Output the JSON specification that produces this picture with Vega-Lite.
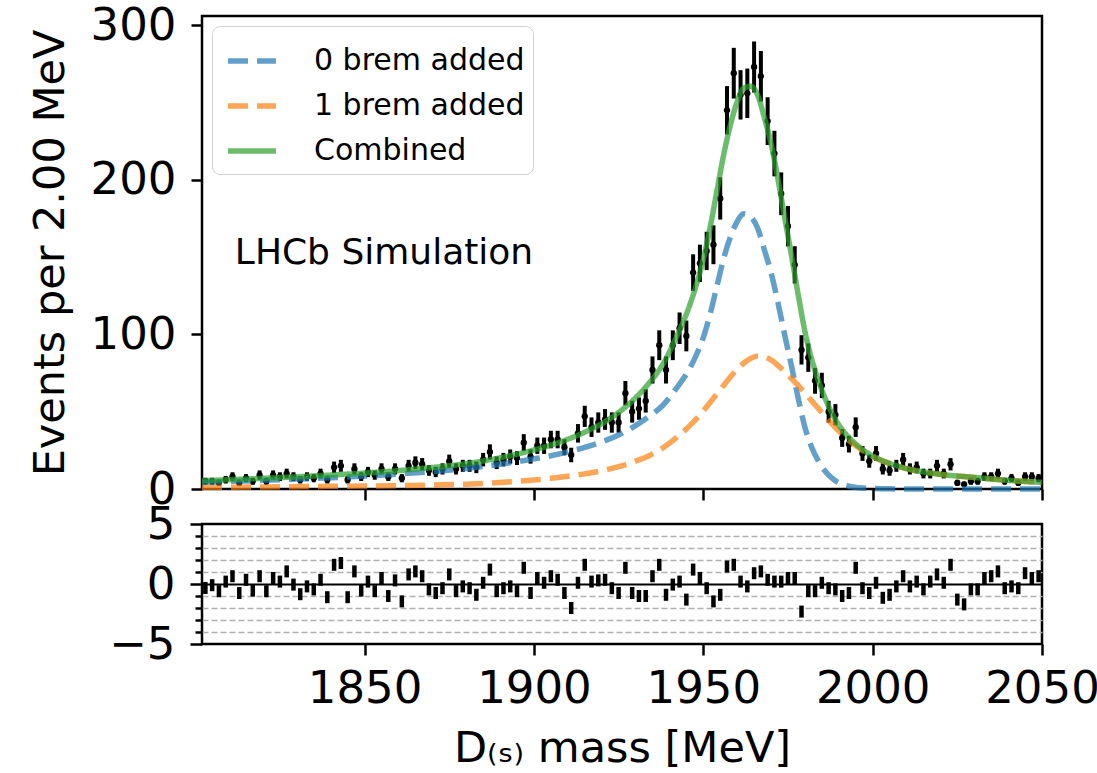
{
  "$schema": "https://vega.github.io/schema/vega-lite/v6.json",
  "background": "white",
  "padding": {"left": 27, "top": 2, "right": 5, "bottom": 5},
  "spacing": 35,
  "bounds": "flush",
  "config": {
    "font": "DejaVu Sans",
    "view": {"stroke": "black", "strokeWidth": 2.5},
    "axis": {"domain": false, "grid": false, "tickColor": "black", "tickWidth": 2.5, "tickSize": 11, "labelColor": "black", "labelFontSize": 45, "labelFont": "DejaVu Sans", "titleFont": "DejaVu Sans", "titleFontSize": 43, "titleFontWeight": "normal", "titleColor": "black", "labelFlush": false}
  },
  "datasets": {
    "pts": [
      {"m":1803,"n":5,"err":2.24},{"m":1805,"n":5,"err":2.24},{"m":1807,"n":4,"err":2},{"m":1809,"n":6,"err":2.45},{"m":1811,"n":8,"err":2.83},
      {"m":1813,"n":4,"err":2},{"m":1815,"n":7,"err":2.65},{"m":1817,"n":5,"err":2.24},{"m":1819,"n":9,"err":3},{"m":1821,"n":5,"err":2.24},
      {"m":1823,"n":9,"err":3},{"m":1825,"n":8,"err":2.83},{"m":1827,"n":10,"err":3.16},{"m":1829,"n":8,"err":2.83},{"m":1831,"n":6,"err":2.45},
      {"m":1833,"n":8,"err":2.83},{"m":1835,"n":7,"err":2.65},{"m":1837,"n":10,"err":3.16},{"m":1839,"n":6,"err":2.45},{"m":1841,"n":14,"err":3.74},
      {"m":1843,"n":15,"err":3.87},{"m":1845,"n":6,"err":2.45},{"m":1847,"n":13,"err":3.61},{"m":1849,"n":8,"err":2.83},{"m":1851,"n":11,"err":3.32},
      {"m":1853,"n":9,"err":3},{"m":1855,"n":13,"err":3.61},{"m":1857,"n":8,"err":2.83},{"m":1859,"n":13,"err":3.61},{"m":1861,"n":7,"err":2.65},
      {"m":1863,"n":15,"err":3.87},{"m":1865,"n":17,"err":4.12},{"m":1867,"n":16,"err":4},{"m":1869,"n":12,"err":3.46},{"m":1871,"n":11,"err":3.32},
      {"m":1873,"n":13,"err":3.61},{"m":1875,"n":18,"err":4.24},{"m":1877,"n":13,"err":3.61},{"m":1879,"n":15,"err":3.87},{"m":1881,"n":15,"err":3.87},
      {"m":1883,"n":14,"err":3.74},{"m":1885,"n":19,"err":4.36},{"m":1887,"n":24,"err":4.9},{"m":1889,"n":17,"err":4.12},{"m":1891,"n":19,"err":4.36},
      {"m":1893,"n":21,"err":4.58},{"m":1895,"n":20,"err":4.47},{"m":1897,"n":30,"err":5.48},{"m":1899,"n":21,"err":4.58},{"m":1901,"n":28,"err":5.29},
      {"m":1903,"n":28,"err":5.29},{"m":1905,"n":32,"err":5.66},{"m":1907,"n":32,"err":5.66},{"m":1909,"n":27,"err":5.2},{"m":1911,"n":22,"err":4.69},
      {"m":1913,"n":36,"err":6},{"m":1915,"n":47,"err":6.86},{"m":1917,"n":40,"err":6.32},{"m":1919,"n":43,"err":6.56},{"m":1921,"n":45,"err":6.71},
      {"m":1923,"n":43,"err":6.56},{"m":1925,"n":43,"err":6.56},{"m":1927,"n":62,"err":7.87},{"m":1929,"n":50,"err":7.07},{"m":1931,"n":52,"err":7.21},
      {"m":1933,"n":57,"err":7.55},{"m":1935,"n":77,"err":8.77},{"m":1937,"n":93,"err":9.64},{"m":1939,"n":77,"err":8.77},{"m":1941,"n":93,"err":9.64},
      {"m":1943,"n":104,"err":10.2},{"m":1945,"n":99,"err":9.95},{"m":1947,"n":140,"err":11.83},{"m":1949,"n":146,"err":12.08},{"m":1951,"n":154,"err":12.41},
      {"m":1953,"n":158,"err":12.57},{"m":1955,"n":188,"err":13.71},{"m":1957,"n":245,"err":15.65},{"m":1959,"n":269,"err":16.4},{"m":1961,"n":255,"err":15.97},
      {"m":1963,"n":256,"err":16},{"m":1965,"n":273,"err":16.52},{"m":1967,"n":267,"err":16.34},{"m":1969,"n":238,"err":15.43},{"m":1971,"n":217,"err":14.73},
      {"m":1973,"n":191,"err":13.82},{"m":1975,"n":170,"err":13.04},{"m":1977,"n":145,"err":12.04},{"m":1979,"n":90,"err":9.49},{"m":1981,"n":85,"err":9.22},
      {"m":1983,"n":70,"err":8.37},{"m":1985,"n":67,"err":8.19},{"m":1987,"n":50,"err":7.07},{"m":1989,"n":48,"err":6.93},{"m":1991,"n":33,"err":5.74},
      {"m":1993,"n":29,"err":5.39},{"m":1995,"n":40,"err":6.32},{"m":1997,"n":23,"err":4.8},{"m":1999,"n":18,"err":4.24},{"m":2001,"n":23,"err":4.8},
      {"m":2003,"n":13,"err":3.61},{"m":2005,"n":12,"err":3.46},{"m":2007,"n":15,"err":3.87},{"m":2009,"n":19,"err":4.36},{"m":2011,"n":13,"err":3.61},
      {"m":2013,"n":14,"err":3.74},{"m":2015,"n":10,"err":3.16},{"m":2017,"n":10,"err":3.16},{"m":2019,"n":15,"err":3.87},{"m":2021,"n":10,"err":3.16},
      {"m":2023,"n":16,"err":4},{"m":2025,"n":4,"err":2},{"m":2027,"n":3,"err":1.73},{"m":2029,"n":5,"err":2.24},{"m":2031,"n":5,"err":2.24},
      {"m":2033,"n":8,"err":2.83},{"m":2035,"n":8,"err":2.83},{"m":2037,"n":10,"err":3.16},{"m":2039,"n":5,"err":2.24},{"m":2041,"n":7,"err":2.65},
      {"m":2043,"n":4,"err":2},{"m":2045,"n":8,"err":2.83},{"m":2047,"n":8,"err":2.83},{"m":2049,"n":7,"err":2.65}
    ],
    "curves": [
      {"m":1802,"b0":4.4,"b1":1.0,"comb":5.4},{"m":1810,"b0":4.9,"b1":1.1,"comb":6.0},{"m":1820,"b0":5.6,"b1":1.3,"comb":6.9},
      {"m":1830,"b0":6.4,"b1":1.5,"comb":7.9},{"m":1840,"b0":7.3,"b1":1.7,"comb":9.0},{"m":1850,"b0":8.4,"b1":1.9,"comb":10.3},
      {"m":1860,"b0":9.7,"b1":2.2,"comb":11.9},{"m":1870,"b0":11.3,"b1":2.6,"comb":13.9},{"m":1880,"b0":13.3,"b1":3.1,"comb":16.4},
      {"m":1890,"b0":16,"b1":4.2,"comb":20.2},{"m":1900,"b0":19.5,"b1":5.8,"comb":25.3},{"m":1905,"b0":21.5,"b1":6.9,"comb":28.4},
      {"m":1910,"b0":24,"b1":8.2,"comb":32.2},{"m":1915,"b0":27,"b1":9.8,"comb":36.8},{"m":1920,"b0":30.5,"b1":11.8,"comb":42.3},
      {"m":1925,"b0":35,"b1":14.5,"comb":49.5},{"m":1930,"b0":41,"b1":18,"comb":59},{"m":1934,"b0":47,"b1":21.5,"comb":68.5},
      {"m":1938,"b0":54,"b1":26.5,"comb":80.5},{"m":1942,"b0":65,"b1":33,"comb":98},{"m":1946,"b0":78,"b1":41,"comb":119},
      {"m":1948,"b0":87,"b1":45.5,"comb":132.5},{"m":1950,"b0":98,"b1":50.5,"comb":148.5},{"m":1952,"b0":113,"b1":56,"comb":169},
      {"m":1954,"b0":131,"b1":61.5,"comb":192.5},{"m":1956,"b0":149,"b1":67,"comb":216},{"m":1958,"b0":163,"b1":72.5,"comb":235.5},
      {"m":1960,"b0":173,"b1":77.5,"comb":250.5},{"m":1962,"b0":178,"b1":81.5,"comb":259.5},{"m":1964,"b0":176,"b1":84.5,"comb":260.5},
      {"m":1966,"b0":169,"b1":86,"comb":255},{"m":1968,"b0":155,"b1":85.5,"comb":240.5},{"m":1970,"b0":140,"b1":83.5,"comb":223.5},
      {"m":1972,"b0":121,"b1":80,"comb":201},{"m":1974,"b0":100,"b1":76,"comb":176},{"m":1976,"b0":80,"b1":71.5,"comb":151.5},
      {"m":1978,"b0":59,"b1":67,"comb":126},{"m":1980,"b0":40,"b1":62,"comb":102},{"m":1982,"b0":27,"b1":57,"comb":84},
      {"m":1984,"b0":18,"b1":52,"comb":70},{"m":1986,"b0":11.5,"b1":47,"comb":58.5},{"m":1988,"b0":7,"b1":42,"comb":49},
      {"m":1990,"b0":4,"b1":37.5,"comb":41.5},{"m":1993,"b0":1.8,"b1":31.5,"comb":33.3},{"m":1996,"b0":0.8,"b1":26.5,"comb":27.3},
      {"m":2000,"b0":0.3,"b1":21,"comb":21.3},{"m":2005,"b0":0.1,"b1":16.5,"comb":16.6},{"m":2010,"b0":0.05,"b1":13.2,"comb":13.25},
      {"m":2020,"b0":0,"b1":9.5,"comb":9.5},{"m":2030,"b0":0,"b1":7.5,"comb":7.5},{"m":2040,"b0":0,"b1":5.6,"comb":5.6},
      {"m":2050,"b0":0,"b1":4.3,"comb":4.3}
    ],
    "pulls": [
      {"m":1803,"p":-0.33},{"m":1805,"p":-0.1},{"m":1807,"p":-0.6},{"m":1809,"p":0.2},{"m":1811,"p":0.65},{"m":1813,"p":-0.75},{"m":1815,"p":0.35},{"m":1817,"p":-0.55},{"m":1819,"p":0.65},{"m":1821,"p":-0.6},
      {"m":1823,"p":0.5},{"m":1825,"p":0.2},{"m":1827,"p":1.05},{"m":1829,"p":-0.05},{"m":1831,"p":-0.85},{"m":1833,"p":-0.2},{"m":1835,"p":-0.45},{"m":1837,"p":0.35},{"m":1839,"p":-1.1},{"m":1841,"p":1.6},
      {"m":1843,"p":1.75},{"m":1845,"p":-1.1},{"m":1847,"p":1.05},{"m":1849,"p":-0.55},{"m":1851,"p":0.2},{"m":1853,"p":-0.6},{"m":1855,"p":0.5},{"m":1857,"p":-1.0},{"m":1859,"p":0.3},{"m":1861,"p":-1.45},
      {"m":1863,"p":0.8},{"m":1865,"p":1.05},{"m":1867,"p":0.65},{"m":1869,"p":-0.45},{"m":1871,"p":-0.75},{"m":1873,"p":-0.35},{"m":1875,"p":0.8},{"m":1877,"p":-0.6},{"m":1879,"p":-0.2},{"m":1881,"p":-0.35},
      {"m":1883,"p":-0.9},{"m":1885,"p":0.1},{"m":1887,"p":1.2},{"m":1889,"p":-0.6},{"m":1891,"p":-0.35},{"m":1893,"p":-0.2},{"m":1895,"p":-0.6},{"m":1897,"p":1.35},{"m":1899,"p":-0.75},{"m":1901,"p":0.5},
      {"m":1903,"p":0.1},{"m":1905,"p":0.65},{"m":1907,"p":0.35},{"m":1909,"p":-0.75},{"m":1911,"p":-2.0},{"m":1913,"p":0.1},{"m":1915,"p":1.6},{"m":1917,"p":0.2},{"m":1919,"p":0.3},{"m":1921,"p":0.35},
      {"m":1923,"p":-0.35},{"m":1925,"p":-0.75},{"m":1927,"p":1.35},{"m":1929,"p":-0.75},{"m":1931,"p":-1.0},{"m":1933,"p":-1.0},{"m":1935,"p":0.65},{"m":1937,"p":1.6},{"m":1939,"p":-0.9},{"m":1941,"p":-0.05},
      {"m":1943,"p":0.2},{"m":1945,"p":-1.3},{"m":1947,"p":1.2},{"m":1949,"p":0.5},{"m":1951,"p":-0.35},{"m":1953,"p":-1.45},{"m":1955,"p":-0.9},{"m":1957,"p":1.45},{"m":1959,"p":1.6},{"m":1961,"p":0.2},
      {"m":1963,"p":-0.2},{"m":1965,"p":0.9},{"m":1967,"p":1.05},{"m":1969,"p":0.35},{"m":1971,"p":0.2},{"m":1973,"p":0.2},{"m":1975,"p":0.5},{"m":1977,"p":0.5},{"m":1979,"p":-2.3},{"m":1981,"p":-0.6},
      {"m":1983,"p":-0.6},{"m":1985,"p":0.1},{"m":1987,"p":-0.35},{"m":1989,"p":-0.45},{"m":1991,"p":-1.0},{"m":1993,"p":-0.75},{"m":1995,"p":1.35},{"m":1997,"p":-0.35},{"m":1999,"p":-0.75},{"m":2001,"p":0.1},
      {"m":2003,"p":-1.15},{"m":2005,"p":-0.9},{"m":2007,"p":-0.2},{"m":2009,"p":0.65},{"m":2011,"p":-0.2},{"m":2013,"p":0.2},{"m":2015,"p":-0.45},{"m":2017,"p":0.2},{"m":2019,"p":0.8},{"m":2021,"p":0.1},
      {"m":2023,"p":1.6},{"m":2025,"p":-1.3},{"m":2027,"p":-1.7},{"m":2029,"p":-0.45},{"m":2031,"p":-0.45},{"m":2033,"p":0.5},{"m":2035,"p":0.65},{"m":2037,"p":1.05},{"m":2039,"p":-0.35},{"m":2041,"p":-0.2},
      {"m":2043,"p":-0.35},{"m":2045,"p":0.9},{"m":2047,"p":0.5},{"m":2049,"p":0.65}
    ],
    "label": [{"m":1811.7,"v":145.6,"t":"LHCb Simulation"}]
  },
  "vconcat": [
    {
      "width": 840,
      "height": 473,
      "layer": [
        {
          "data": {"name": "pts"},
          "mark": {"type": "errorbar", "thickness": 4, "color": "black"},
          "encoding": {
            "x": {"field": "m", "type": "quantitative", "scale": {"domain": [1802, 2050], "nice": false, "zero": false},
                  "axis": {"labels": false, "title": null, "values": [1850, 1900, 1950, 2000, 2050]}},
            "y": {"field": "n", "type": "quantitative", "scale": {"domain": [0, 306], "nice": false},
                  "axis": {"values": [0, 100, 200, 300], "format": "d", "title": "Events per 2.00 MeV", "titlePadding": 18, "labelPadding": 15}},
            "yError": {"field": "err"}
          }
        },
        {
          "data": {"name": "pts"},
          "mark": {"type": "point", "filled": true, "color": "black", "size": 40, "opacity": 1},
          "encoding": {
            "x": {"field": "m", "type": "quantitative"},
            "y": {"field": "n", "type": "quantitative"}
          }
        },
        {
          "data": {"name": "curves"},
          "transform": [{"fold": ["b0", "b1", "comb"], "as": ["comp", "val"]}],
          "mark": {"type": "line", "strokeWidth": 5.5, "strokeOpacity": 0.7, "interpolate": "monotone"},
          "encoding": {
            "x": {"field": "m", "type": "quantitative"},
            "y": {"field": "val", "type": "quantitative"},
            "color": {"field": "comp", "type": "nominal",
                      "scale": {"domain": ["b0", "b1", "comb"], "range": ["#1f77b4", "#ff7f0e", "#2ca02c"]},
                      "legend": {"title": null, "orient": "top-left", "offset": 10,
                                 "labelExpr": "datum.value == 'b0' ? '0 brem added' : datum.value == 'b1' ? '1 brem added' : 'Combined'",
                                 "symbolType": "stroke", "symbolSize": 2304, "symbolStrokeWidth": 5.5, "symbolOpacity": 0.7, "symbolOffset": 5,
                                 "labelFontSize": 30, "labelFont": "DejaVu Sans", "labelColor": "black", "labelOffset": 35, "labelLimit": 500,
                                 "rowPadding": 3, "padding": 8, "strokeColor": "#d0d0d0", "cornerRadius": 8, "fillColor": "white"}},
            "strokeDash": {"field": "comp", "type": "nominal",
                           "scale": {"domain": ["b0", "b1", "comb"], "range": [[20, 9], [20, 9], [1, 0]]},
                           "legend": {"title": null, "orient": "top-left", "offset": 10,
                                 "labelExpr": "datum.value == 'b0' ? '0 brem added' : datum.value == 'b1' ? '1 brem added' : 'Combined'",
                                 "symbolType": "stroke", "symbolSize": 2304, "symbolStrokeWidth": 5.5, "symbolOpacity": 0.7, "symbolOffset": 5,
                                 "labelFontSize": 30, "labelFont": "DejaVu Sans", "labelColor": "black", "labelOffset": 35, "labelLimit": 500,
                                 "rowPadding": 3, "padding": 8, "strokeColor": "#d0d0d0", "cornerRadius": 8, "fillColor": "white"}}
          }
        },
        {
          "data": {"name": "label"},
          "mark": {"type": "text", "align": "left", "baseline": "alphabetic", "fontSize": 36, "color": "black", "font": "DejaVu Sans"},
          "encoding": {
            "x": {"field": "m", "type": "quantitative"},
            "y": {"field": "v", "type": "quantitative"},
            "text": {"field": "t"}
          }
        }
      ]
    },
    {
      "width": 840,
      "height": 120,
      "data": {"name": "pulls"},
      "mark": {"type": "tick", "orient": "vertical", "size": 12, "thickness": 4.5, "color": "black", "opacity": 1},
      "encoding": {
        "x": {"field": "m", "type": "quantitative", "scale": {"domain": [1802, 2050], "nice": false, "zero": false},
              "axis": {"values": [1850, 1900, 1950, 2000, 2050], "format": "d", "title": "D₍ₛ₎ mass [MeV]", "titlePadding": 16, "labelPadding": 11}},
        "y": {"field": "p", "type": "quantitative", "scale": {"domain": [-5, 5], "nice": false},
              "axis": {"values": [-5, -4, -3, -2, -1, 0, 1, 2, 3, 4, 5], "format": "d", "title": null, "labelPadding": 15,
                       "labelExpr": "abs(datum.value) == 5 || datum.value == 0 ? datum.label : ''",
                       "tickSize": {"condition": {"test": "abs(datum.value) == 5 || datum.value == 0", "value": 12}, "value": 7},
                       "grid": true,
                       "gridColor": {"condition": {"test": "datum.value == 0", "value": "black"}, "value": "#b0b0b0"},
                       "gridDash": {"condition": {"test": "datum.value == 0", "value": []}, "value": [6, 3]},
                       "gridWidth": {"condition": {"test": "datum.value == 0", "value": 2.2}, "value": 1.3},
                       "gridOpacity": {"condition": {"test": "abs(datum.value) == 5", "value": 0}, "value": 1}}}
      }
    }
  ]
}
